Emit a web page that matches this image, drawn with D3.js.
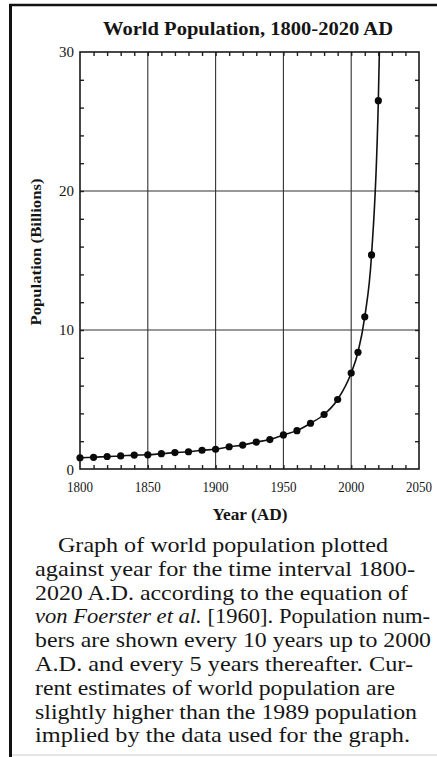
<!DOCTYPE html>
<html>
<head>
<meta charset="utf-8">
<script src="https://cdn.jsdelivr.net/npm/d3@7"></script>
<style>
  html, body { margin: 0; padding: 0; background: #fff; }
  svg { display: block; }
</style>
</head>
<body>
<script>
// values (billions)
var years  = [1800,1810,1820,1830,1840,1850,1860,1870,1880,1890,1900,1910,1920,1930,1940,1950,1960,1970,1980,1990,2000,2005,2010,2015,2020];
var pop    = [0.81,0.84,0.9,0.94,1.0,1.02,1.1,1.18,1.24,1.35,1.42,1.6,1.72,1.94,2.12,2.45,2.76,3.29,3.92,5.0,6.9,8.4,10.95,15.4,26.5];
// curve keeps rising past the last dot and leaves through the top
var tail   = [2021, 31];
var xTicks = [1800,1850,1900,1950,2000,2050];
var yTicks = [0,10,20,30];
var xGrid  = [1850,1900,1950,2000];
var yGrid  = [10,20];

var title   = "World Population, 1800-2020 AD";
var xTitle  = "Year (AD)";
var yTitle  = "Population (Billions)";
var caption = [
    "Graph of world population plotted",
    "against year for the time interval 1800-",
    "2020 A.D. according to the equation of",
    ["von Foerster et al.", " [1960]. Population num-"],
    "bers are shown every 10 years up to 2000",
    "A.D. and every 5 years thereafter. Cur-",
    "rent estimates of world population are",
    "slightly higher than the 1989 population",
    "implied by the data used for the graph."
];
// x-start / x-end of each caption line in the scan
var capX0 = [58,35,35,35,35,35,35,35,35];
var capX1 = [388,415,408,430,431,413,395,417,410];

var SERIF = "Liberation Serif";
var INK = "#151515";

var W = 437, H = 757;
var svg = d3.select("body").append("svg").attr("width", W).attr("height", H)
    .attr("font-family", SERIF);

// page frame (left + top rule of the scanned box)
svg.append("line").attr("x1",10.5).attr("x2",10.5).attr("y1",4).attr("y2",H).attr("stroke","#111").attr("stroke-width",3);
svg.append("line").attr("x1",9).attr("x2",W).attr("y1",5).attr("y2",5).attr("stroke","#111").attr("stroke-width",2.5);
svg.append("line").attr("x1",12).attr("x2",W).attr("y1",755).attr("y2",755).attr("stroke","#ccc").attr("stroke-width",1);

var x = d3.scaleLinear().domain([1800,2050]).range([80,419]);
var y = d3.scaleLinear().domain([0,30]).range([469,52]);

svg.append("defs").append("clipPath").attr("id","plot")
    .append("rect").attr("x",80).attr("y",52).attr("width",339).attr("height",417);

// grid
svg.append("g").selectAll("line").data(xGrid).join("line")
    .attr("x1",d=>x(d)).attr("x2",d=>x(d)).attr("y1",y(0)).attr("y2",y(30))
    .attr("stroke","#333").attr("stroke-width",1.1);
svg.append("g").selectAll("line").data(yGrid).join("line")
    .attr("x1",x(1800)).attr("x2",x(2050)).attr("y1",d=>y(d)).attr("y2",d=>y(d))
    .attr("stroke","#333").attr("stroke-width",1.1);

// minor ticks, inward on all four sides
var g = svg.append("g");
g.append("g").attr("transform","translate(0,"+y(0)+")")
    .call(d3.axisTop(x).tickValues(d3.range(1810,2050,10)).tickSize(4).tickFormat(""));
g.append("g").attr("transform","translate(0,"+y(30)+")")
    .call(d3.axisBottom(x).tickValues(d3.range(1810,2050,10)).tickSize(4).tickFormat(""));
g.append("g").attr("transform","translate("+x(1800)+",0)")
    .call(d3.axisRight(y).tickValues(d3.range(2,30,2)).tickSize(4).tickFormat(""));
g.append("g").attr("transform","translate("+x(2050)+",0)")
    .call(d3.axisLeft(y).tickValues(d3.range(2,30,2)).tickSize(4).tickFormat(""));
g.selectAll(".domain").remove();
g.selectAll(".tick line").attr("stroke","#222").attr("stroke-width",1.4);

// frame
svg.append("rect").attr("x",x(1800)).attr("y",y(30)).attr("width",x(2050)-x(1800)).attr("height",y(0)-y(30))
    .attr("fill","none").attr("stroke","#1a1a1a").attr("stroke-width",1.6);

// tick labels
svg.append("g").selectAll("text").data(xTicks).join("text")
    .attr("x",d=>x(d)).attr("y",492).attr("text-anchor","middle")
    .attr("fill",INK)
    .attr("font-size",15).attr("textLength",26).attr("lengthAdjust","spacingAndGlyphs")
    .text(d=>d);
svg.append("g").selectAll("text").data(yTicks).join("text")
    .attr("x",74).attr("y",d=>y(d)+(d===0?6:5)).attr("text-anchor","end")
    .attr("fill",INK)
    .attr("font-size",15)
    .text(d=>d);

// data curve + dots
var pts = years.map((yr,i)=>[yr,pop[i]]);
var line = d3.line().x(d=>x(d[0])).y(d=>y(d[1])).curve(d3.curveMonotoneX);
svg.append("path").datum(pts.concat([tail])).attr("d",line)
    .attr("clip-path","url(#plot)")
    .attr("fill","none").attr("stroke","#111").attr("stroke-width",1.6);
svg.append("g").selectAll("circle").data(pts).join("circle")
    .attr("cx",d=>x(d[0])).attr("cy",d=>y(d[1])).attr("r",3.6).attr("fill","#0a0a0a");

// titles
svg.append("text").attr("x",248).attr("y",35).attr("text-anchor","middle")
    .attr("fill",INK)
    .attr("font-size",19).attr("font-weight","bold").attr("textLength",290).attr("lengthAdjust","spacingAndGlyphs")
    .text(title);
svg.append("text").attr("x",250).attr("y",520).attr("text-anchor","middle")
    .attr("fill",INK)
    .attr("font-size",16).attr("font-weight","bold").attr("textLength",75).attr("lengthAdjust","spacingAndGlyphs")
    .text(xTitle);
svg.append("text").attr("transform","translate(41,252) rotate(-90)").attr("text-anchor","middle")
    .attr("fill",INK)
    .attr("font-size",15).attr("font-weight","bold").attr("textLength",147).attr("lengthAdjust","spacingAndGlyphs")
    .text(yTitle);

// caption
var cap = svg.append("g").attr("fill",INK);
caption.forEach(function(ln,i){
    var t = cap.append("text").attr("x",capX0[i]).attr("y",552+i*23.8)
        .attr("font-size",22).attr("textLength",capX1[i]-capX0[i]).attr("lengthAdjust","spacingAndGlyphs");
    if (Array.isArray(ln)) {
        t.append("tspan").attr("font-style","italic").text(ln[0]);
        t.append("tspan").text(ln[1]);
    } else {
        t.text(ln);
    }
});
</script>
</body>
</html>
